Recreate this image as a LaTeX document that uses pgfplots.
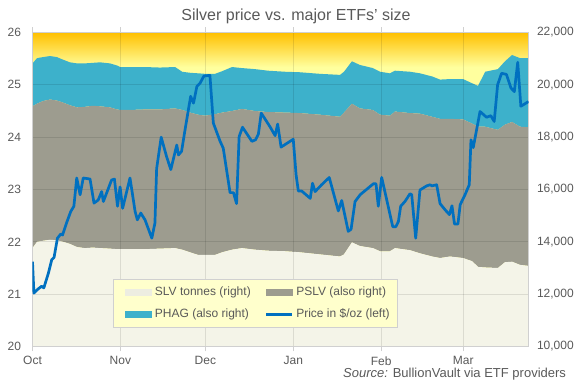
\documentclass[border=0pt]{standalone}
\usepackage{fontspec}
\setmainfont{Liberation Sans}
\usepackage{pgfplots}
\usepackage{pgfplotstable}
\pgfplotsset{compat=1.18}
\definecolor{slvc}{HTML}{F4F4E8}
\definecolor{pslvc}{HTML}{9D9C8F}
\definecolor{phagc}{HTML}{3DB1CB}
\definecolor{pricec}{HTML}{0070C0}
\definecolor{bgtop}{HTML}{FFC000}
\definecolor{bgpale}{HTML}{FFFF9E}
\definecolor{legbg}{HTML}{FFFFCC}
\definecolor{txt}{HTML}{595959}
\definecolor{frame}{HTML}{D0D0D0}
\pgfdeclareverticalshading{plotbg}{100bp}{color(0bp)=(bgpale); color(69.5bp)=(bgpale); color(75bp)=(bgtop); color(100bp)=(bgtop)}

\pgfplotstableread{
day slv pslv phag
0 13760 5420 1640
1.6 14000 5280 1740
3.7 14040 5340 1680
6.2 14080 5360 1660
8.6 14060 5340 1660
10.8 14000 5320 1640
13.2 13920 5300 1640
15.7 13800 5340 1680
18.5 13760 5400 1660
21.3 13780 5420 1640
23.8 13760 5420 1680
27.3 13740 5400 1680
29.8 13720 5340 1680
30.9 13720 5320 1640
34.4 13720 5320 1640
39.7 13720 5340 1620
45.0 13740 5320 1600
50.3 13760 5340 1580
52.8 13700 5340 1460
55.6 13600 5340 1520
58.4 13500 5360 1580
60.9 13500 5320 1600
64.4 13500 5380 1540
66.9 13600 5340 1580
70.4 13700 5300 1680
73.9 13760 5320 1560
78.5 13700 5300 1600
83.1 13660 5300 1580
89.1 13640 5300 1560
94.4 13600 5320 1560
101.4 13520 5340 1560
108.5 13440 5340 1600
109.9 13520 5420 1560
112.7 13980 5300 1620
115.5 13840 5260 1660
120.1 13760 5280 1600
122.6 13640 5220 1640
126.1 13640 5180 1620
127.9 13760 5220 1560
133.2 13680 5240 1580
136.7 13560 5340 1540
141.0 13440 5340 1540
143.8 13380 5320 1500
147.3 13440 5260 1520
151.9 13380 5300 1540
155.1 13260 5260 1540
157.2 13040 5360 1560
159.7 13020 5380 2100
164.2 13000 5280 2320
166.7 13220 5260 2420
169.2 13240 5340 2560
172.0 13120 5280 2620
175.0 13080 5300 2640
}\etfdata

\pgfplotstableread{
day price
0 21.62
0.5 21.02
2 21.1
3.2 21.15
4 21.12
5.6 21.4
6.8 21.66
7.6 21.7
8.8 22.07
10 22.15
10.6 22.13
12 22.36
13.5 22.58
14.6 22.68
15.6 23.22
16.8 22.9
17.9 23.22
20.3 23.2
21.7 22.74
23.2 22.8
24.4 22.96
25 22.77
27.9 23.18
28.9 23.2
30 22.68
30.9 23.05
31.8 22.64
34.4 23.22
36.2 22.58
37 22.42
38.2 22.55
39.7 22.42
42.1 22.07
43.2 22.36
43.8 23.40
45.4 24.0
47.3 23.63
48.8 23.38
50.9 23.85
51.5 23.66
52.6 23.73
54 24.2
55.8 24.78
56.8 24.65
58 24.97
59.1 25.03
60.5 25.17
62.6 25.18
63.8 24.27
66.2 23.92
67.3 23.79
69.7 22.94
70.9 22.94
72.0 22.73
72.9 24.01
74.1 24.19
77.4 23.92
78.7 23.95
79.7 24.06
80.7 24.46
83.9 24.19
85.6 24.03
86.5 24.25
87.7 23.81
92 23.96
93 23.28
93.8 22.97
95 22.97
98 22.83
98.8 23.12
99.7 22.96
102 23.09
104.7 23.23
106.2 22.93
107.9 22.59
109.1 22.79
111.4 22.2
112.4 22.24
113.8 22.77
115.6 22.9
118.5 23.03
120.3 23.11
121.2 23.11
122 22.68
123.2 23.23
124.7 22.87
127.1 22.29
128.2 22.29
129.1 22.39
129.9 22.68
131.4 22.77
133.2 22.92
133.8 22.9
135.2 22.07
136.7 22.99
139.1 23.07
140.3 23.09
140.9 23.07
142.6 23.09
143.8 22.73
145.6 22.61
147.1 22.52
148 22.69
148.9 22.34
150.1 22.34
150.9 22.71
152.6 22.9
154.1 23.09
154.7 23.95
155.5 23.8
157.9 24.49
160.2 24.38
161.7 24.41
162.9 24.3
164.1 25.0
165.5 25.22
167.2 25.2
168.8 24.94
170 24.87
171.2 25.43
172.3 24.59
175 24.68
}\pricedata

\begin{document}
\begin{tikzpicture}
\path[use as bounding box] (-32.5pt,-43.5pt) rectangle (545.5pt,346.5pt);
\pgfplotsset{
  common/.style={
    at={(0pt,0pt)}, anchor=south west,
    scale only axis, width=496pt, height=314pt,
    xmin=0, xmax=175,
    ticklabel style={font=\fontsize{12}{14}\selectfont, text=txt},
    /pgf/number format/assume math mode=true,
  }
}
\begin{axis}[common,
  ymin=10000, ymax=22000,
  ytick={10000,12000,...,22000},
  yticklabel pos=right,
  scaled y ticks=false,
  yticklabel style={/pgf/number format/.cd, fixed, precision=0, 1000 sep={,}},
  xtick={0,31,61,92,123,152},
  xticklabels={Oct,Nov,Dec,Jan,Feb,Mar},
  xticklabel style={yshift=-1.5pt},
  tick align=outside,
  major tick length=5pt,
  xtick style={draw=frame, line width=0.8pt},
  ytick style={draw=none},
  grid=major,
  major grid style={draw=black, opacity=0.1, line width=0.9pt},
  axis line style={draw=frame, line width=0.9pt},
  axis on top,
  axis background/.style={shading=plotbg},
  stack plots=y,
]
\addplot[fill=slvc, draw=none] table[x=day, y=slv]{\etfdata} \closedcycle;
\addplot[fill=pslvc, draw=none] table[x=day, y=pslv]{\etfdata} \closedcycle;
\addplot[fill=phagc, draw=none] table[x=day, y=phag]{\etfdata} \closedcycle;
\end{axis}
\begin{axis}[common,
  ymin=20, ymax=26,
  ytick={20,21,...,26},
  axis x line=none,
  axis y line*=left,
  y axis line style={draw=none},
  ytick style={draw=none},
  major tick length=0pt,
  yticklabel style={xshift=-8pt},
  legend columns=2,
  legend style={at={(0.163,0.061)}, anchor=south west,
    draw=frame, line width=0.8pt, fill=legbg,
    font=\fontsize{12}{14}\selectfont, text=txt,
    inner xsep=7.5pt, inner ysep=7.5pt,
    row sep=12pt,
    nodes={inner sep=0pt, anchor=west},
    /tikz/every odd column/.append style={column sep=3pt},
    /tikz/every even column/.append style={column sep=10pt},
  },
]
\addlegendimage{legend image code/.code={\path (0pt,0pt); \fill[slvc!97!black] (4.2pt,-3pt) rectangle (29.9pt,3pt);}}
\addlegendentry{SLV tonnes (right)}
\addlegendimage{legend image code/.code={\path (0pt,0pt); \fill[pslvc] (4.2pt,-3pt) rectangle (29.9pt,3pt);}}
\addlegendentry{PSLV (also right)}
\addlegendimage{legend image code/.code={\path (0pt,0pt); \fill[phagc] (4.2pt,-3pt) rectangle (29.9pt,3pt);}}
\addlegendentry{PHAG (also right)}
\addplot[pricec, line width=2.7pt, line join=round,
  legend image code/.code={\path (0pt,0pt); \draw[pricec, line width=2.5pt] (4.2pt,0pt) -- (29.9pt,0pt);}]
  table[x=day, y=price]{\pricedata};
\addlegendentry{Price in \$/oz (left)}
\end{axis}
\node[anchor=base, font=\fontsize{16}{18}\selectfont, text=txt] at (263.5pt,325.8pt) {Silver price vs. major ETFs' size};
\node[anchor=base east, font=\fontsize{13}{15}\selectfont, text=txt, inner ysep=1pt] at (537pt,-31pt) {\textit{Source:} BullionVault via ETF providers};
\end{tikzpicture}
\end{document}
